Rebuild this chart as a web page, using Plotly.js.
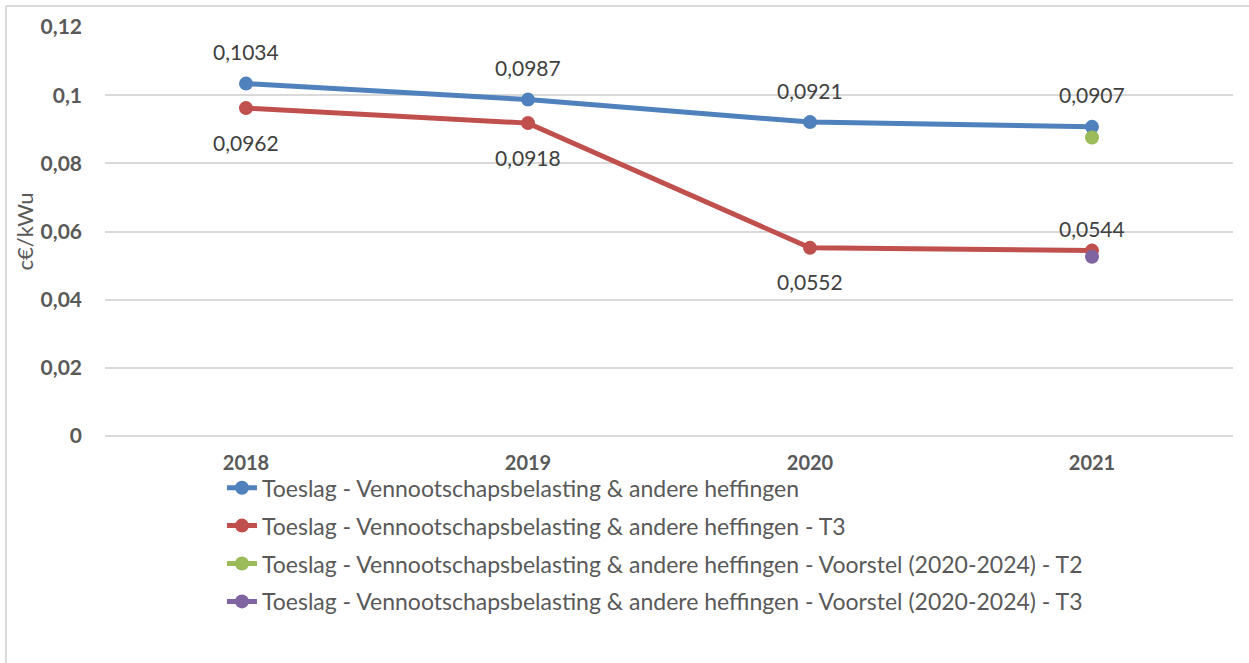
<!DOCTYPE html>
<html>
<head>
<meta charset="utf-8">
<script src="https://cdn.plot.ly/plotly-3.0.1.min.js"></script>
<style>
  html, body { margin: 0; padding: 0; background: #ffffff; }
  #chart { width: 1249px; height: 663px; }
</style>
</head>
<body>
<div id="chart"></div>
<script>
const categories = ['2018', '2019', '2020', '2021'];
const seriesNames = [
  'Toeslag - Vennootschapsbelasting & andere heffingen',
  'Toeslag - Vennootschapsbelasting & andere heffingen - T3',
  'Toeslag - Vennootschapsbelasting & andere heffingen - Voorstel (2020-2024) - T2',
  'Toeslag - Vennootschapsbelasting & andere heffingen - Voorstel (2020-2024) - T3'
];
const blueValues = [0.1034, 0.0987, 0.0921, 0.0907];
const redValues = [0.0962, 0.0918, 0.0552, 0.0544];
const greenValues = [null, null, null, 0.0876];
const purpleValues = [null, null, null, 0.0526];
const yTicks = [0, 0.02, 0.04, 0.06, 0.08, 0.1, 0.12];

const colors = ['#4f81bd', '#c0504d', '#9bbb59', '#8064a2'];
const allValues = [blueValues, redValues, greenValues, purpleValues];

const fontFam = 'Lato, sans-serif';

const traces = allValues.map((vals, i) => ({
  type: 'scatter',
  mode: 'lines+markers',
  x: categories,
  y: vals,
  name: seriesNames[i],
  legendgroup: 'g' + i,
  line: { color: colors[i], width: 5 },
  marker: { color: colors[i], size: 14 },
  cliponaxis: false
}));

const fmt = v => String(v).replace('.', ',');
const annotations = [];
blueValues.forEach((v, i) => annotations.push({
  x: i, y: v, xref: 'x', yref: 'y', text: fmt(v), showarrow: false,
  yshift: 32, font: { family: fontFam, size: 21, color: '#404040' }
}));
redValues.forEach((v, i) => annotations.push({
  x: i, y: v, xref: 'x', yref: 'y', text: fmt(v), showarrow: false,
  yshift: i === 3 ? 22 : -34, font: { family: fontFam, size: 21, color: '#404040' }
}));

const layout = {
  width: 1249, height: 663,
  margin: { l: 105, r: 16, t: 27, b: 227 },
  paper_bgcolor: '#ffffff', plot_bgcolor: '#ffffff',
  separators: ',.',
  font: { family: fontFam, color: '#595959' },
  showlegend: true,
  legend: {
    orientation: 'v',
    x: 0.1037, xanchor: 'left',
    y: -0.074, yanchor: 'top',
    font: { family: fontFam, size: 23, color: '#595959' },
    tracegroupgap: 5,
    bgcolor: 'rgba(0,0,0,0)'
  },
  xaxis: {
    type: 'category',
    range: [-0.5, 3.5],
    showgrid: false, zeroline: false, showline: false,
    ticks: '',
    ticklabelstandoff: 13,
    tickfont: { family: fontFam, size: 20, color: '#595959', weight: 'bold' },
    fixedrange: true
  },
  yaxis: {
    range: [0, 0.12],
    tickvals: yTicks,
    showgrid: true, gridcolor: '#d9d9d9', gridwidth: 2,
    zeroline: true, zerolinecolor: '#d9d9d9', zerolinewidth: 2,
    showline: false, ticks: '',
    ticklabelstandoff: 22,
    tickfont: { family: fontFam, size: 21, color: '#595959', weight: 'bold' },
    title: { text: 'c€/kWu', font: { family: fontFam, size: 22, color: '#595959' }, standoff: 0 },
    fixedrange: true
  },
  annotations: annotations,
  shapes: [
    { type: 'line', xref: 'paper', yref: 'paper', x0: -0.0878, x1: 1.2, y0: 1.0513, y1: 1.0513,
      line: { color: '#d9d9d9', width: 2 } },
    { type: 'line', xref: 'paper', yref: 'paper', x0: -0.0878, x1: -0.0878, y0: 1.0513, y1: -0.7,
      line: { color: '#d9d9d9', width: 2 } }
  ]
};

Plotly.newPlot('chart', traces, layout, { displayModeBar: false });
</script>
</body>
</html>
